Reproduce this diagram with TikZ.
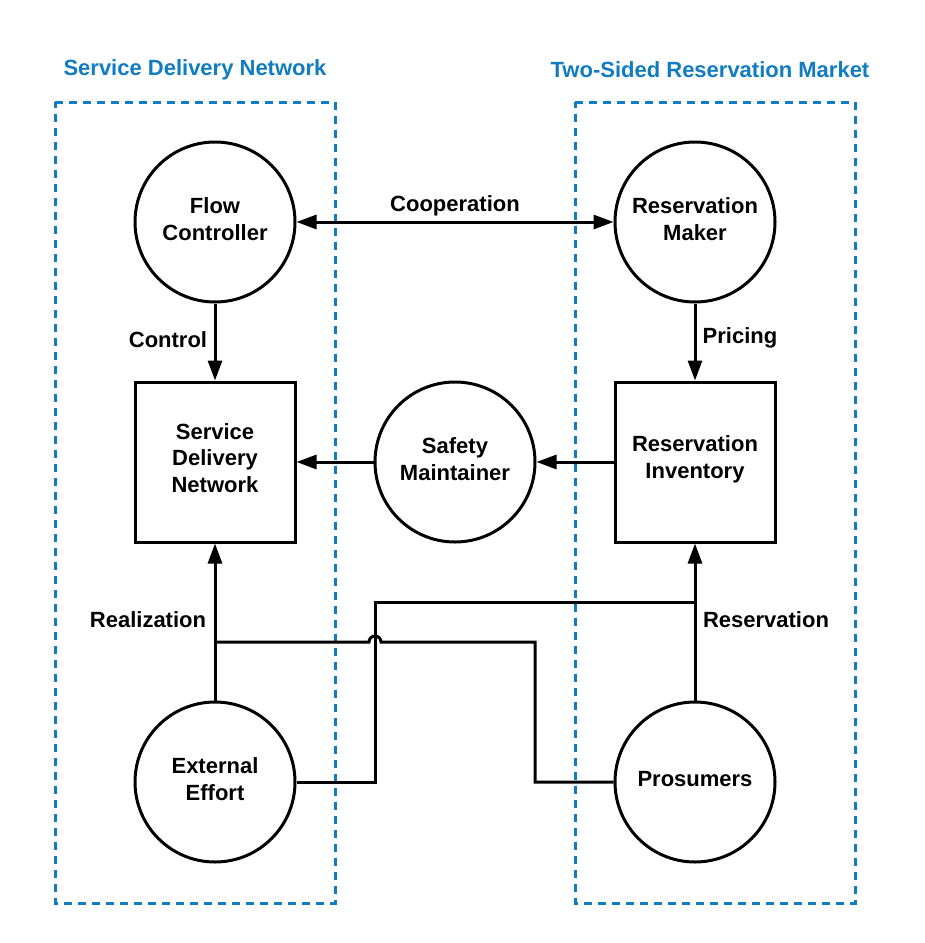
\documentclass[tikz,border=0pt]{standalone}
\usepackage{fontspec}
\setmainfont{Liberation Sans}
\usetikzlibrary{arrows.meta}

\definecolor{zoneblue}{RGB}{16,124,193}
\newcommand{\lblfont}{\fontsize{16.5}{20}\selectfont\bfseries}

\tikzset{every picture/.style={line width=2.25pt}}
\tikzset{
	role/.style={draw,circle,minimum size=120pt,inner sep=0pt},
	block/.style={draw,minimum size=120pt,inner sep=0pt},
	lbl/.style={inner sep=0.75pt,align=center,font=\lblfont},
	zone/.style={draw=zoneblue,dash pattern={on 6pt off 4.5pt}},
	flow/.style={-{Triangle[length=15pt,width=10.5pt]}},
	coop/.style={{Triangle[length=15pt,width=10.5pt]}-{Triangle[length=15pt,width=10.5pt]}},
}

\begin{document}
\begin{tikzpicture}[x=0.75pt,y=0.75pt,yscale=-1,xscale=1]
	\useasboundingbox (0,0) rectangle (925,943);
	%Shape: Rectangle [id:zoneService]
	\draw [zone] (55,102) -- (335,102) -- (335,903) -- (55,903) -- cycle ;
	%Shape: Rectangle [id:zoneMarket]
	\draw [zone] (575,102) -- (855,102) -- (855,903) -- (575,903) -- cycle ;
	
	% Text Node
	\node [lbl,text=zoneblue] (titleService) at (195,70) {Service Delivery Network};
	% Text Node
	\node [lbl,text=zoneblue] (titleMarket) at (710,70) {Two-Sided Reservation Market};
	
	%Shape: Circle [id:flowCtrl]
	\node [role] (flowCtrl) at (215,222) {};
	%Shape: Circle [id:resMaker]
	\node [role] (resMaker) at (695,222) {};
	%Shape: Rectangle [id:sdNet]
	\node [block] (sdNet) at (215,462) {};
	%Shape: Circle [id:safety]
	\node [role] (safety) at (455,462) {};
	%Shape: Rectangle [id:resInv]
	\node [block] (resInv) at (695,462) {};
	%Shape: Circle [id:extEffort]
	\node [role] (extEffort) at (215,782) {};
	%Shape: Circle [id:prosumers]
	\node [role] (prosumers) at (695,782) {};
	
	% Text Node
	\node [lbl] (flowCtrlTxt) at (215,219) {Flow\\Controller};
	% Text Node
	\node [lbl] (resMakerTxt) at (695,219) {Reservation\\Maker};
	% Text Node
	\node [lbl] (sdNetTxt) at (215,458) {Service\\Delivery\\Network};
	% Text Node
	\node [lbl] (safetyTxt) at (455,459) {Safety\\Maintainer};
	% Text Node
	\node [lbl] (resInvTxt) at (695,459) {Reservation\\Inventory};
	% Text Node
	\node [lbl] (extEffortTxt) at (215,779) {External\\Effort};
	% Text Node
	\node [lbl] (prosumersTxt) at (695,779) {Prosumers};
	
	%Straight Lines [id:coop]
	\draw [coop] (flowCtrl.east) -- (resMaker.west) ;
	%Straight Lines [id:control]
	\draw [flow] (flowCtrl.south) -- (sdNet.north) ;
	%Straight Lines [id:pricing]
	\draw [flow] (resMaker.south) -- (resInv.north) ;
	%Straight Lines [id:invToSafety]
	\draw [flow] (resInv.west) -- (safety.east) ;
	%Straight Lines [id:safetyToNet]
	\draw [flow] (safety.west) -- (sdNet.east) ;
	%Straight Lines [id:realization]
	\draw [flow] (extEffort.north) -- (sdNet.south) ;
	%Straight Lines [id:reservation]
	\draw [flow] (prosumers.north) -- (resInv.south) ;
	
	\coordinate (joinRes) at (695,602) ;
	\coordinate (joinReal) at (215,642) ;
	\coordinate (hopR) at (381,642) ;
	%Straight Lines [id:effortToRes]
	\draw (extEffort.east) -- (375,782) -- (375,602) -- (joinRes) ;
	%Straight Lines [id:prosumersToReal]
	\draw (prosumers.west) -- (535,782) -- (535,642) -- (hopR) arc (0:-180:6) -- (joinReal) ;
	
	% Text Node
	\node [lbl] (cooperationLbl) at (455,206) {Cooperation};
	% Text Node
	\node [lbl] (controlLbl) at (168,340) {Control};
	% Text Node
	\node [lbl] (pricingLbl) at (740,338) {Pricing};
	% Text Node
	\node [lbl] (realizationLbl) at (148,620) {Realization};
	% Text Node
	\node [lbl] (reservationLbl) at (766,620) {Reservation};
\end{tikzpicture}
\end{document}
